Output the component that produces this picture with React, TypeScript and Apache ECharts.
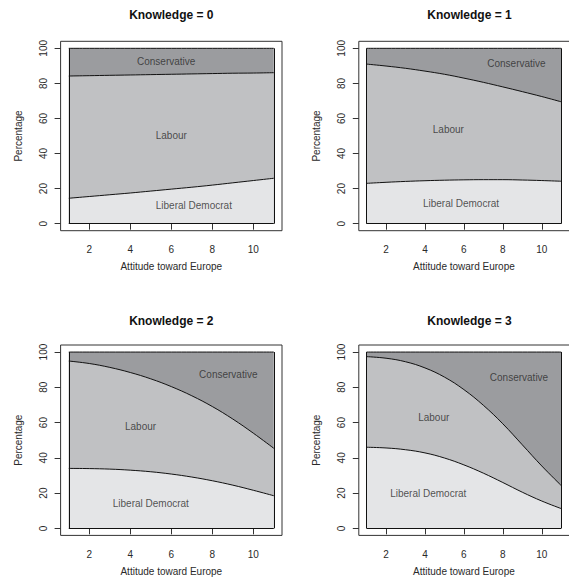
import React, { useEffect, useRef } from "react";
import * as echarts from "echarts";

// Attitude toward Europe (x values)
const attitude = [1, 2, 3, 4, 5, 6, 7, 8, 9, 10, 11];
const xTicks = [2, 4, 6, 8, 10];
const yTicks = [0, 20, 40, 60, 80, 100];
const partyNames = ["Conservative", "Labour", "Liberal Democrat"];

// Cumulative percentages: lower = Liberal Democrat, upper = Lib Dem + Labour
const k0Lower = [14.5, 15.5, 16.5, 17.5, 18.6, 19.7, 20.8, 22.0, 23.3, 24.6, 25.9];
const k0Upper = [84.2, 84.4, 84.6, 84.8, 85.0, 85.2, 85.4, 85.6, 85.8, 85.9, 86.1];
const k1Lower = [23.0, 23.6, 24.1, 24.5, 24.8, 25.0, 25.1, 25.1, 24.9, 24.6, 24.2];
const k1Upper = [91.0, 89.9, 88.6, 87.0, 85.2, 83.0, 80.6, 78.0, 75.3, 72.5, 69.5];
const k2Lower = [34.0, 33.9, 33.6, 33.0, 32.1, 30.8, 29.1, 27.0, 24.5, 21.6, 18.5];
const k2Upper = [94.9, 93.5, 91.3, 88.4, 84.8, 80.4, 75.2, 69.1, 62.0, 54.0, 45.4];
const k3Lower = [46.0, 45.6, 44.6, 42.8, 39.9, 36.0, 31.3, 26.0, 20.5, 15.5, 11.2];
const k3Upper = [97.4, 96.5, 94.5, 91.0, 85.8, 78.7, 69.8, 59.3, 47.4, 35.4, 24.3];
// Conservative share = 100 - upper, so the full stack always reaches 100
const totalPct = 100;

// Text label positions (data coords), order: Conservative, Labour, Liberal Democrat
const k0LabelX = [5.75, 6.0, 7.1];
const k0LabelY = [92.6, 50.2, 10.3];
const k1LabelX = [8.7, 5.2, 5.85];
const k1LabelY = [91.1, 53.8, 11.6];
const k2LabelX = [8.78, 4.5, 5.0];
const k2LabelY = [87.5, 57.6, 14.2];
const k3LabelX = [8.83, 4.45, 4.17];
const k3LabelY = [85.6, 63.0, 19.9];

const panelTitles = ["Knowledge = 0", "Knowledge = 1", "Knowledge = 2", "Knowledge = 3"];

const COL_CON = "#9b9c9f";
const COL_LAB = "#c0c1c3";
const COL_LD = "#e4e5e7";
const FONT = "'Liberation Sans', Arial, Helvetica, sans-serif";
const TXT = "#2a2a2a";

export default function App() {
  const ref = useRef<HTMLDivElement>(null);

  useEffect(() => {
    if (!ref.current) return;
    const chart = echarts.init(ref.current, undefined, { renderer: "svg" });

    const panels = [
      { lower: k0Lower, upper: k0Upper, lx: k0LabelX, ly: k0LabelY },
      { lower: k1Lower, upper: k1Upper, lx: k1LabelX, ly: k1LabelY },
      { lower: k2Lower, upper: k2Upper, lx: k2LabelX, ly: k2LabelY },
      { lower: k3Lower, upper: k3Upper, lx: k3LabelX, ly: k3LabelY },
    ];

    const gridPos = [
      { left: 60.6, top: 41.3, width: 221.4, height: 189.4 },
      { left: 358.8, top: 41.3, width: 221.4, height: 189.4 },
      { left: 60.6, top: 345, width: 221.4, height: 190.4 },
      { left: 358.8, top: 345, width: 221.4, height: 190.4 },
    ];

    const grids = gridPos.map((g) => ({ ...g, show: false }));

    const xAxes = gridPos.map((_, i) => ({
      type: "value",
      gridIndex: i,
      min: 0.6,
      max: 11.4,
      name: "Attitude toward Europe",
      nameLocation: "middle",
      nameGap: 31,
      nameTextStyle: { fontSize: 10, color: TXT, fontFamily: FONT },
      axisLine: { show: false },
      axisTick: {
        show: true,
        length: 6,
        inside: false,
        customValues: xTicks,
        lineStyle: { color: "#333", width: 1 },
      },
      axisLabel: {
        customValues: xTicks,
        fontSize: 10,
        color: TXT,
        fontFamily: FONT,
        margin: 14,
      },
      splitLine: { show: false },
    }));

    const yAxes = gridPos.map((_, i) => ({
      type: "value",
      gridIndex: i,
      min: -4,
      max: 104,
      name: "Percentage",
      nameLocation: "middle",
      nameGap: 37,
      nameRotate: 90,
      nameTextStyle: { fontSize: 10, color: TXT, fontFamily: FONT },
      axisLine: { show: false },
      axisTick: {
        show: true,
        length: 6,
        inside: false,
        customValues: yTicks,
        lineStyle: { color: "#333", width: 1 },
      },
      axisLabel: {
        customValues: yTicks,
        rotate: 90,
        fontSize: 10,
        color: TXT,
        fontFamily: FONT,
        margin: 12,
      },
      splitLine: { show: false },
    }));

    const series: any[] = [];
    panels.forEach((p, i) => {
      const total = attitude.map((x, j) => [
        x,
        p.lower[j] + (p.upper[j] - p.lower[j]) + (totalPct - p.upper[j]),
      ]);
      const upper = attitude.map((x, j) => [x, p.upper[j]]);
      const lower = attitude.map((x, j) => [x, p.lower[j]]);
      const common = {
        type: "line",
        xAxisIndex: i,
        yAxisIndex: i,
        symbol: "none",
        smooth: 0.4,
        lineStyle: { color: "#111", width: 1 },
        emphasis: { disabled: true },
        silent: true,
      };
      const x0 = attitude[0];
      const x1 = attitude[attitude.length - 1];
      series.push({
        ...common,
        name: "Conservative " + i,
        data: total,
        z: 2,
        areaStyle: { color: COL_CON, opacity: 1, origin: 0 },
      });
      series.push({
        ...common,
        name: "Labour " + i,
        data: upper,
        z: 3,
        areaStyle: { color: COL_LAB, opacity: 1, origin: 0 },
      });
      series.push({
        ...common,
        name: "Liberal Democrat " + i,
        data: lower,
        z: 4,
        areaStyle: { color: COL_LD, opacity: 1, origin: 0 },
        markLine: {
          silent: true,
          symbol: "none",
          label: { show: false },
          lineStyle: { color: "#111", width: 1, type: "solid" },
          data: [
            [{ coord: [x0, 0] }, { coord: [x0, totalPct] }],
            [{ coord: [x1, 0] }, { coord: [x1, totalPct] }],
            [{ coord: [x0, 0] }, { coord: [x1, 0] }],
          ],
        },
      });
      series.push({
        type: "scatter",
        xAxisIndex: i,
        yAxisIndex: i,
        z: 6,
        symbolSize: 1,
        itemStyle: { color: "transparent" },
        silent: true,
        data: partyNames.map((n, j) => ({ name: n, value: [p.lx[j], p.ly[j]] })),
        label: {
          show: true,
          position: "inside",
          formatter: (d: any) => d.name,
          fontSize: 10,
          color: TXT,
          fontFamily: FONT,
        },
      });
    });

    const titleCenters = [
      [171.3, 15],
      [469.5, 15],
      [171.3, 320.7],
      [469.5, 320.7],
    ];

    const graphics: any[] = titleCenters.map((c, i) => ({
      type: "text",
      x: c[0],
      y: c[1],
      silent: true,
      style: {
        text: panelTitles[i],
        fill: "#111",
        font: "bold 12px " + FONT,
        align: "center",
        verticalAlign: "middle",
      },
    }));
    gridPos.forEach((g) => {
      graphics.push({
        type: "rect",
        silent: true,
        z: 10,
        shape: { x: g.left, y: g.top, width: g.width, height: g.height },
        style: { fill: "none", stroke: "#333", lineWidth: 1 },
      });
    });

    chart.setOption({
      animation: false,
      backgroundColor: "#ffffff",
      grid: grids,
      xAxis: xAxes,
      yAxis: yAxes,
      series,
      graphic: graphics,
    });

    return () => chart.dispose();
  }, []);

  return (
    <div
      ref={ref}
      style={{ position: "absolute", left: 0, top: 0, width: 569, height: 585 }}
    />
  );
}
